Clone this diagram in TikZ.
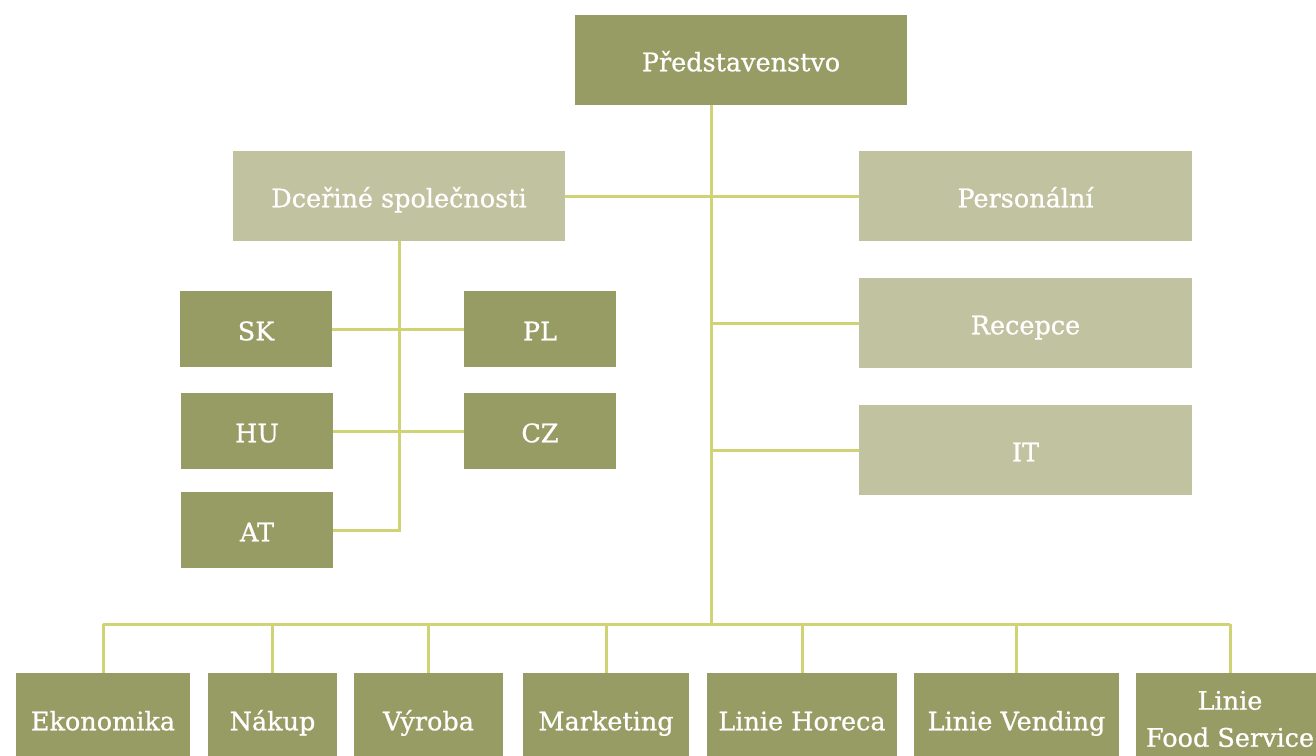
\documentclass[tikz,border=0pt]{standalone}
\usepackage{fontspec}
\setmainfont{DejaVu Serif}
\newfontfamily\boxfont{DejaVu Serif}[FakeBold=0.8]
\definecolor{darkol}{RGB}{150,156,99}
\definecolor{lightol}{RGB}{193,194,160}
\definecolor{conncol}{RGB}{207,211,118}
\tikzset{
  boxbase/.style={inner sep=0pt, text=white, font=\boxfont\fontsize{25.5}{37}\selectfont},
  box/.style={boxbase, text height=22.5pt, text depth=0pt},
  darkbox/.style={box, fill=darkol},
  lightbox/.style={box, fill=lightol},
  darkbox2/.style={boxbase, align=center, fill=darkol},
  conn/.style={draw=conncol, line width=3pt}
}
\begin{document}
\begin{tikzpicture}[x=1pt,y=-1pt]
\useasboundingbox (0,0) rectangle (1316,755);
% top
\node[darkbox, minimum width=332pt, minimum height=90pt] (pred) at (741,60) {Představenstvo};
\node[lightbox, minimum width=332pt, minimum height=90pt] (dcer) at (399,196) {Dceřiné společnosti};
\node[lightbox, minimum width=333pt, minimum height=90pt] (pers) at (1025.5,196) {Personální};
\node[lightbox, minimum width=333pt, minimum height=90pt] (rec) at (1025.5,323) {Recepce};
\node[lightbox, minimum width=333pt, minimum height=90pt] (it) at (1025.5,450) {IT};
% subsidiaries
\node[darkbox, minimum width=152pt, minimum height=76pt] (sk) at (256,329) {SK};
\node[darkbox, minimum width=152pt, minimum height=76pt] (pl) at (540,329) {PL};
\node[darkbox, minimum width=152pt, minimum height=76pt] (hu) at (257,431) {HU};
\node[darkbox, minimum width=152pt, minimum height=76pt] (cz) at (540,431) {CZ};
\node[darkbox, minimum width=152pt, minimum height=76pt] (at) at (257,530) {AT};
% bottom
\node[darkbox, minimum width=174pt, minimum height=92pt] (ekon) at (103,719) {Ekonomika};
\node[darkbox, minimum width=129pt, minimum height=92pt] (nak) at (272.5,719) {Nákup};
\node[darkbox, minimum width=149pt, minimum height=92pt] (vyr) at (428.5,719) {Výroba};
\node[darkbox, minimum width=166pt, minimum height=92pt] (mkt) at (606,719) {Marketing};
\node[darkbox, minimum width=190pt, minimum height=92pt] (hor) at (802,719) {Linie Horeca};
\node[darkbox, minimum width=205pt, minimum height=92pt] (ven) at (1016.5,719) {Linie Vending};
\node[darkbox2, minimum width=188pt, minimum height=92pt] (fs) at (1230,719) {Linie\\Food Service};
% connectors
\coordinate (bus) at (711,624);
\coordinate (spine) at (711,105);
\path[conn] (spine) -- (bus);
\path[conn] (dcer.east) -- (pers.west);
\path[conn] (spine |- rec.west) -- (rec.west);
\path[conn] (spine |- it.west) -- (it.west);
\path[conn] (ekon.north |- bus) -- (fs.north |- bus);
\foreach \n in {ekon,nak,vyr,mkt,hor,ven,fs}{
  \path[conn] (\n.north |- bus) -- (\n.north);
}
\path[conn] (dcer.south) -- (dcer.south |- at.east) -- (at.east);
\path[conn] (sk.east) -- (pl.west);
\path[conn] (hu.east) -- (cz.west);
\end{tikzpicture}
\end{document}
